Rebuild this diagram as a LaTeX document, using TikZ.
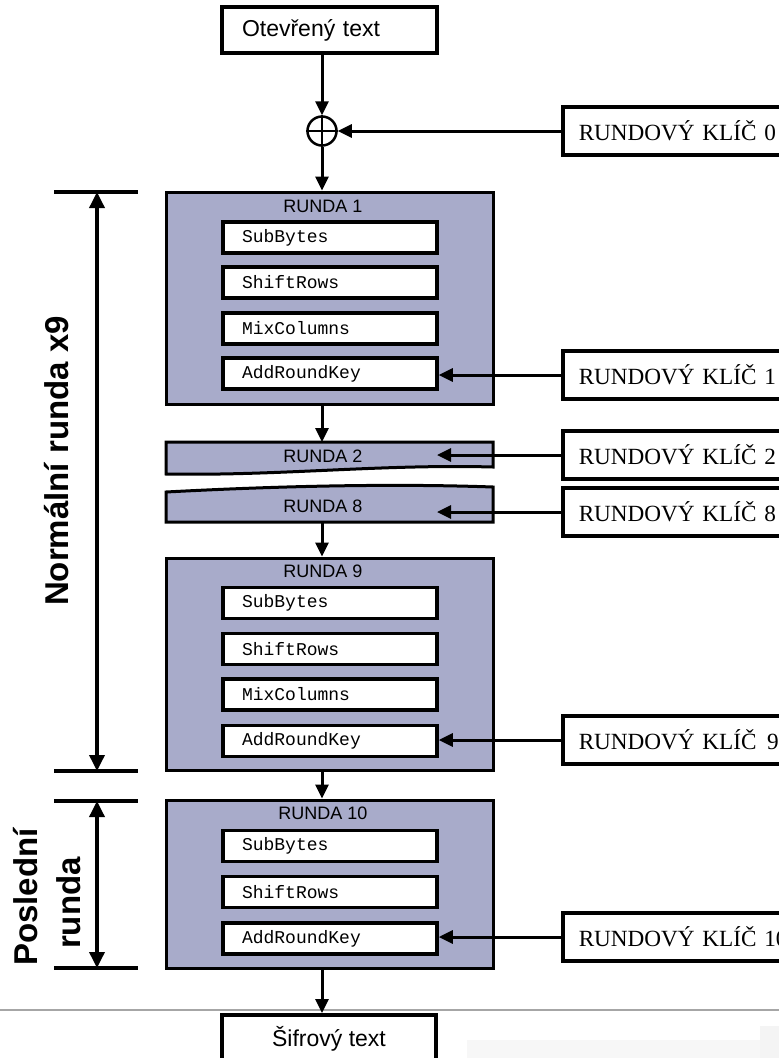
\documentclass[tikz,border=0pt]{standalone}
\usepackage{fontspec}
\setmainfont{Liberation Serif}
\setmonofont{Liberation Mono}
\newfontfamily\arialf{Liberation Sans}
\usetikzlibrary{arrows.meta}

% blue-grey tone of the round boxes
\definecolor{roundfill}{RGB}{168,171,202}

\begin{document}
\begin{tikzpicture}[x=1pt,y=-1pt,
  roundbox/.style={draw, line width=3pt, fill=roundfill},
  stepbox/.style={draw, fill=white, line width=3.5pt, minimum height=31pt,
    text width=176pt, inner xsep=19pt, inner ysep=0pt, align=left,
    font=\fontsize{18}{20}\selectfont\ttfamily},
  keybox/.style={draw, fill=white, line width=3.5pt, minimum height=48pt,
    text width=240pt, inner xsep=16pt, inner ysep=0pt, align=left, anchor=west,
    font=\fontsize{23.2}{26}\selectfont},
  sansbox/.style={draw, fill=white, line width=3.5pt, inner ysep=0pt,
    font=\arialf\fontsize{23}{26}\selectfont},
  conn/.style={line width=3pt, -{Triangle[length=14pt,width=13pt]}},
  rlabel/.style={font=\arialf\fontsize{18}{20}\selectfont, inner sep=0pt},
  dimline/.style={line width=3.5pt},
  dimarrow/.style={line width=3.5pt,
    {Triangle[length=16pt,width=15pt]}-{Triangle[length=16pt,width=15pt]}},
  sidelabel/.style={font=\arialf\bfseries\fontsize{33}{40}\selectfont,
    rotate=90, anchor=base, inner sep=0pt}
]
\useasboundingbox (0,0) rectangle (779,1058);
\clip (0,0) rectangle (779,1058);

% separator line near the bottom
\draw[gray!70, line width=1.5pt] (0,1010) -- (779,1010);
\fill[gray!6] (467,1040) rectangle (779,1058);
\fill[gray!9] (760,1026) rectangle (779,1058);

% input, key addition and output
\node[sansbox, minimum width=215pt, minimum height=46pt, text width=175pt,
      inner xsep=20pt, align=left] (open) at (329.5,30) {Otevřený text};
\node[draw, circle, line width=2.5pt, minimum size=29pt, inner sep=0pt] (xor) at (322,131) {};
\draw[line width=2.5pt] (xor.north) -- (xor.south) (xor.west) -- (xor.east);
\node[keybox] (key0) at (561,131) {RUNDOVÝ KLÍČ 0};

% round 1
\node[roundbox, minimum width=327pt, minimum height=212pt] (r1) at (329.5,298) {};
\node[rlabel] (r1lab) at (323,206) {RUNDA 1};
\node[stepbox] (sb1) at (330,237.5) {SubBytes};
\node[stepbox] (sr1) at (330,282.5) {ShiftRows};
\node[stepbox] (mc1) at (330,328.5) {MixColumns};
\node[stepbox] (ark1) at (330,373.5) {AddRoundKey};
\node[keybox] (key1) at (561,375) {RUNDOVÝ KLÍČ 1};

% rounds 2 and 8, cut apart
\draw[roundbox] (166,442) -- (493,442) -- (493,467)
  .. controls (380,464) and (280,476) .. (166,474) -- cycle;
\coordinate (r2top) at (322,442);
\coordinate (r2tip) at (437,455);
\node[rlabel] (r2lab) at (323,456) {RUNDA 2};
\node[keybox] (key2) at (561,455) {RUNDOVÝ KLÍČ 2};

\draw[roundbox] (166,492) .. controls (260,487) and (380,483) .. (493,487)
  -- (493,522) -- (166,522) -- cycle;
\coordinate (r8bot) at (322,522);
\coordinate (r8tip) at (437,512);
\node[rlabel] (r8lab) at (323,506) {RUNDA 8};
\node[keybox] (key8) at (561,512) {RUNDOVÝ KLÍČ 8};

% round 9
\node[roundbox, minimum width=327pt, minimum height=212pt] (r9) at (329.5,664) {};
\node[rlabel] (r9lab) at (323,571) {RUNDA 9};
\node[stepbox] (sb9) at (330,603) {SubBytes};
\node[stepbox] (sr9) at (330,649) {ShiftRows};
\node[stepbox] (mc9) at (330,694.5) {MixColumns};
\node[stepbox] (ark9) at (330,741) {AddRoundKey};
\node[keybox] (key9) at (561,740) {RUNDOVÝ KLÍČ\hspace{0.12em} 9};

% round 10
\node[roundbox, minimum width=327pt, minimum height=168pt] (r10) at (329.5,884) {};
\node[rlabel] (r10lab) at (323,813) {RUNDA 10};
\node[stepbox] (sb10) at (330,846) {SubBytes};
\node[stepbox] (sr10) at (330,892) {ShiftRows};
\node[stepbox] (ark10) at (330,938.5) {AddRoundKey};
\node[keybox] (key10) at (561,937) {RUNDOVÝ KLÍČ 10};

\node[sansbox, minimum width=214pt, minimum height=48pt, anchor=north] (sifr) at (329,1013) {Šifrový text};

% data flow
\draw[conn] (xor.north |- open.south) -- (xor.north);
\draw[conn] (xor.south) -- (xor.south |- r1.north);
\draw[conn] (key0.west) -- (xor.east);
\draw[conn] (key1.west) -- (key1.west -| ark1.east);
\draw[conn] (xor.south |- r1.south) -- (r2top);
\draw[conn] (key2.west) -- (r2tip);
\draw[conn] (key8.west) -- (r8tip);
\draw[conn] (r8bot) -- (xor.south |- r9.north);
\draw[conn] (key9.west) -- (key9.west -| ark9.east);
\draw[conn] (xor.south |- r9.south) -- (xor.south |- r10.north);
\draw[conn] (key10.west) -- (key10.west -| ark10.east);
\draw[conn] (xor.south |- r10.south) -- (xor.south |- sifr.north);

% extent markers on the left
\coordinate (na) at (54,192);  \coordinate (nb) at (138,192);
\coordinate (nc) at (54,771);  \coordinate (nd) at (138,771);
\coordinate (pa) at (54,801);  \coordinate (pb) at (138,801);
\coordinate (pc) at (54,968);  \coordinate (pd) at (138,968);
\draw[dimline] (na) -- (nb) (nc) -- (nd) (pa) -- (pb) (pc) -- (pd);
\coordinate (nt) at (97,192); \coordinate (nbm) at (97,771);
\coordinate (pt) at (97,801); \coordinate (pbm) at (97,968);
\draw[dimarrow] (nt) -- (nbm);
\draw[dimarrow] (pt) -- (pbm);
\node[sidelabel] (normal) at (68,461) {Normální runda x9};
\node[sidelabel] (posl) at (37,897) {Poslední};
\node[sidelabel] (runda) at (80,903) {runda};
\end{tikzpicture}
\end{document}
